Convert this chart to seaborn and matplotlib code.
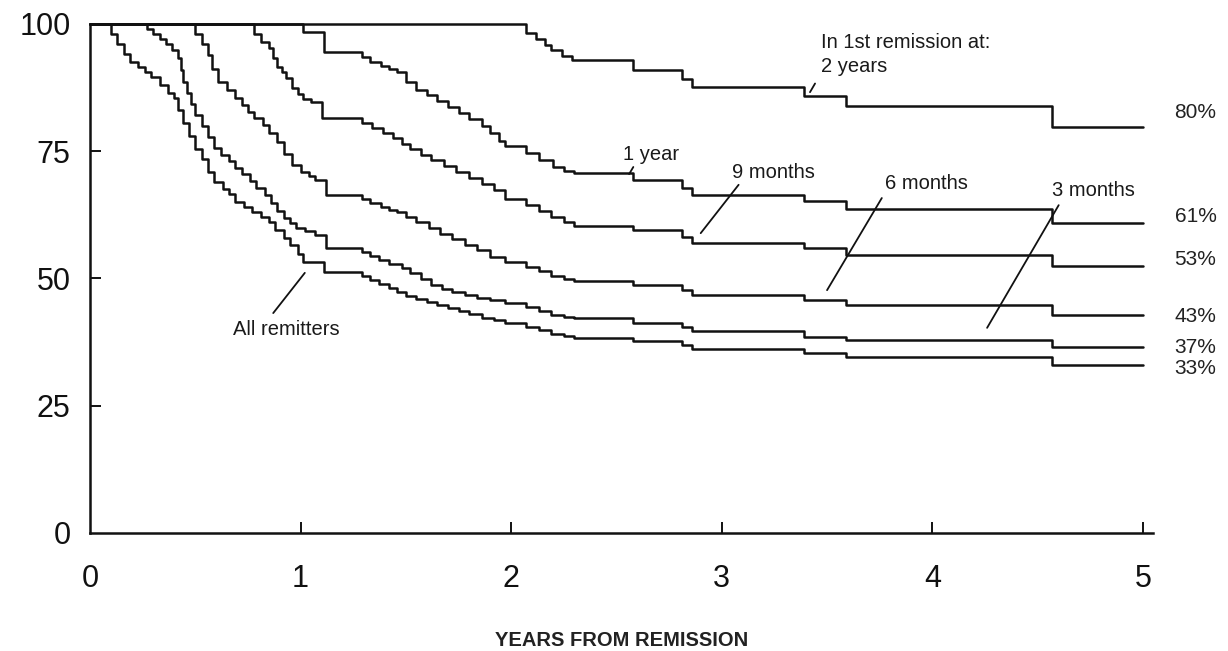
import pandas as pd
import seaborn as sns
import matplotlib.pyplot as plt

# Step curves (years, % still in remission)
all_t = [0, 0.10, 0.13, 0.16, 0.19, 0.23, 0.26, 0.29, 0.33, 0.37, 0.40, 0.42, 0.44, 0.47, 0.50,
         0.53, 0.56, 0.59, 0.63, 0.66, 0.69, 0.73, 0.77, 0.81, 0.85, 0.88, 0.92, 0.95, 0.99, 1.01,
         1.11, 1.29, 1.33, 1.37, 1.42, 1.46, 1.50, 1.55, 1.60, 1.65, 1.70, 1.75, 1.80, 1.86, 1.92,
         1.97, 2.07, 2.13, 2.19, 2.25, 2.30, 2.58, 2.81, 2.86, 3.39, 3.59, 4.57, 5.0]
all_v = [100, 98, 96, 94, 92.5, 91.5, 90.5, 89.5, 88, 86.5, 85.5, 83, 80.5, 78, 75.5,
         73.5, 71, 69, 67.5, 66.5, 65, 64, 63, 62, 61, 59.5, 58, 56.5, 54.8, 53.3,
         51.3, 50.5, 49.7, 48.9, 48.1, 47.3, 46.6, 45.9, 45.4, 44.8, 44.2, 43.6, 43.0, 42.3, 41.8,
         41.3, 40.5, 39.8, 39.1, 38.7, 38.4, 37.7, 36.9, 36.1, 35.4, 34.6, 33.0, 33.0]

m3_t = [0, 0.27, 0.30, 0.33, 0.36, 0.39, 0.42, 0.43, 0.44, 0.46, 0.48, 0.50, 0.53, 0.56, 0.59,
        0.62, 0.66, 0.69, 0.72, 0.76, 0.79, 0.83, 0.86, 0.89, 0.92, 0.95, 0.98, 1.02, 1.07, 1.12,
        1.29, 1.33, 1.37, 1.42, 1.48, 1.52, 1.57, 1.62, 1.67, 1.72, 1.78, 1.84, 1.90, 1.97, 2.07,
        2.13, 2.19, 2.25, 2.30, 2.58, 2.81, 2.86, 3.39, 3.59, 4.57, 5.0]
m3_v = [100, 99, 98, 97, 96, 94.8, 93.3, 91, 88.6, 86.5, 84.3, 82.1, 80, 77.8, 75.6,
        74.2, 73, 71.7, 70.5, 69.2, 67.8, 66.4, 64.8, 63.3, 61.8, 60.9, 59.9, 59.3, 58.5, 56.0,
        55.2, 54.4, 53.6, 52.8, 52.1, 51.0, 49.9, 48.7, 48.0, 47.4, 46.8, 46.2, 45.7, 45.2, 44.4,
        43.6, 42.9, 42.5, 42.2, 41.3, 40.4, 39.7, 38.5, 37.9, 36.5, 36.5]

m6_t = [0, 0.50, 0.53, 0.56, 0.58, 0.61, 0.65, 0.69, 0.72, 0.75, 0.78, 0.82, 0.85, 0.89, 0.92,
        0.96, 1.00, 1.04, 1.07, 1.12, 1.29, 1.33, 1.38, 1.42, 1.46, 1.50, 1.55, 1.61, 1.66, 1.72,
        1.78, 1.84, 1.90, 1.97, 2.07, 2.13, 2.19, 2.25, 2.30, 2.58, 2.81, 2.86, 3.39, 3.59, 4.57, 5.0]
m6_v = [100, 98, 96, 93.9, 91.2, 88.6, 87, 85.5, 84, 82.8, 81.5, 80.2, 78.5, 76.8, 74.5,
        72.3, 71.0, 70.2, 69.4, 66.4, 65.6, 64.8, 64.0, 63.5, 63.1, 62.0, 61.0, 59.9, 58.8, 57.7,
        56.6, 55.5, 54.3, 53.2, 52.3, 51.4, 50.4, 49.9, 49.5, 48.7, 47.7, 46.8, 45.8, 44.8, 42.8, 42.8]

m9_t = [0, 0.78, 0.81, 0.85, 0.87, 0.89, 0.91, 0.93, 0.96, 0.99, 1.01, 1.05, 1.10, 1.29, 1.34,
        1.39, 1.44, 1.48, 1.52, 1.57, 1.62, 1.68, 1.74, 1.80, 1.86, 1.92, 1.97, 2.07, 2.13, 2.19,
        2.25, 2.30, 2.58, 2.81, 2.86, 3.39, 3.59, 4.57, 5.0]
m9_v = [100, 98, 96.5, 95.3, 93.3, 91.6, 90.5, 89.4, 87.5, 86.3, 85.3, 84.7, 81.5, 80.5, 79.5,
        78.6, 77.6, 76.5, 75.4, 74.3, 73.3, 72.1, 70.9, 69.7, 68.5, 67.3, 65.6, 64.4, 63.2, 62.0,
        61.0, 60.3, 59.5, 58.2, 57.0, 56.0, 54.6, 52.5, 52.5]

y1_t = [0, 1.01, 1.11, 1.29, 1.33, 1.38, 1.42, 1.46, 1.50, 1.55, 1.60, 1.65, 1.70, 1.75, 1.80,
        1.86, 1.90, 1.94, 1.97, 2.07, 2.13, 2.20, 2.25, 2.30, 2.58, 2.81, 2.86, 3.39, 3.59, 4.57, 5.0]
y1_v = [100, 98.5, 94.5, 93.5, 92.6, 91.8, 91.2, 90.6, 88.5, 87.0, 86.0, 84.8, 83.6, 82.6, 81.3,
        80.0, 78.5, 77.0, 76.0, 74.6, 73.3, 71.9, 71.2, 70.7, 69.3, 67.8, 66.4, 65.2, 63.7, 60.8, 60.8]

y2_t = [0, 2.07, 2.12, 2.16, 2.19, 2.24, 2.29, 2.58, 2.81, 2.86, 3.39, 3.59, 4.57, 5.0]
y2_v = [100, 98.2, 97.0, 95.9, 94.9, 93.8, 92.9, 91.0, 89.2, 87.6, 85.9, 83.9, 79.8, 79.8]

end_labels = ["80%", "61%", "53%", "43%", "37%", "33%"]
end_label_y = [82.6, 62.2, 53.8, 42.6, 36.4, 32.4]

curves = {
    "All remitters": (all_t, all_v),
    "3 months": (m3_t, m3_v),
    "6 months": (m6_t, m6_v),
    "9 months": (m9_t, m9_v),
    "1 year": (y1_t, y1_v),
    "2 years": (y2_t, y2_v),
}

frames = []
for name, (t, v) in curves.items():
    assert len(t) == len(v), name
    frames.append(pd.DataFrame({"years": t, "pct": v, "group": name}))
df = pd.concat(frames, ignore_index=True)

sns.set_style("ticks")
plt.rcParams["font.family"] = ["Liberation Sans", "DejaVu Sans"]

fig = plt.figure(figsize=(12.28, 6.51), dpi=100)
ax = fig.add_axes([0.0733, 0.1813, 0.866, 0.7819])

sns.lineplot(data=df, x="years", y="pct", units="group", estimator=None,
             color="#111", lw=1.8, drawstyle="steps-post", sort=False, ax=ax)
for ln in ax.lines:
    ln.set_clip_on(False)

ax.set_xlim(0, 5.05)
ax.set_ylim(0, 100)
ax.set_xticks([0, 1, 2, 3, 4, 5])
ax.set_yticks([0, 25, 50, 75, 100])
ax.tick_params(axis="both", direction="in", length=8, width=1.4, labelsize=22, colors="#111")
ax.tick_params(axis="y", pad=14)
ax.tick_params(axis="x", pad=22)
# no tick marks at the origin
ax.xaxis.get_major_ticks()[0].tick1line.set_visible(False)
ax.yaxis.get_major_ticks()[0].tick1line.set_visible(False)
sns.despine(ax=ax)
for side in ["left", "bottom"]:
    ax.spines[side].set_linewidth(1.8)
    ax.spines[side].set_color("#111")

ax.set_xlabel("YEARS FROM REMISSION", fontsize=14.5, fontweight="bold", labelpad=27, color="#222")
ax.set_ylabel("")

# percentages at the right end of each curve
for lab, yy in zip(end_labels, end_label_y):
    ax.text(5.15, yy, lab, fontsize=15, va="center", ha="left", color="#222", clip_on=False)

# curve labels with short leader lines
txt = dict(fontsize=14.5, va="center", ha="left", color="#1a1a1a")
ax.text(3.47, 96.3, "In 1st remission at:", **txt)
ax.text(3.47, 91.6, "2 years", **txt)
ax.text(2.53, 74.3, "1 year", **txt)
ax.text(3.05, 70.9, "9 months", **txt)
ax.text(3.775, 68.6, "6 months", **txt)
ax.text(4.57, 67.2, "3 months", **txt)
ax.text(0.68, 39.9, "All remitters", **txt)

leaders = [((3.443, 88.3), (3.419, 86.6)),
           ((2.58, 71.9), (2.56, 70.5)),
           ((3.08, 68.4), (2.90, 58.9)),
           ((3.76, 65.8), (3.50, 47.7)),
           ((4.60, 64.4), (4.26, 40.3)),
           ((0.87, 43.2), (1.02, 51.1))]
for a, b in leaders:
    ax.annotate("", xy=b, xytext=a,
                arrowprops=dict(arrowstyle="-", lw=1.3, color="#111", shrinkA=0, shrinkB=0))

fig.savefig("out.png", dpi=100)
